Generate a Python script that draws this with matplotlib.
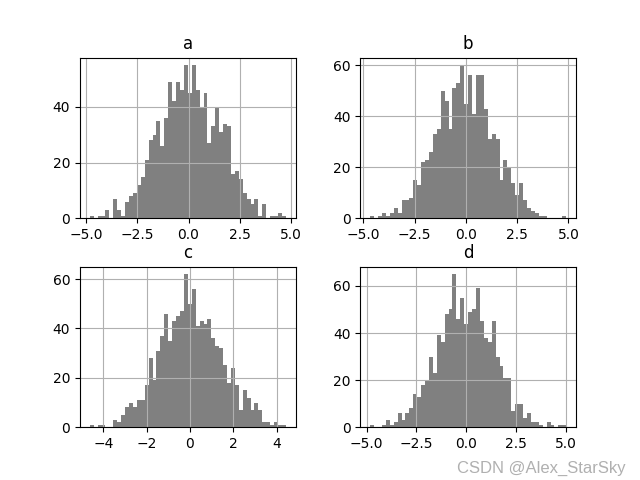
import numpy as np
import matplotlib
matplotlib.use("Agg")
import matplotlib.pyplot as plt

# column names and the data range of each column (min, max)
names = ["a", "b", "c", "d"]
ranges = {"a": (-4.83, 4.76), "b": (-4.67, 4.89), "c": (-4.63, 4.43), "d": (-4.82, 5.03)}

# counts per bin, 50 bins each
counts_a = [1, 0, 1, 1, 3, 0, 7, 3, 1, 6,
            8, 9, 12, 15, 21, 28, 30, 35, 26, 36,
            49, 42, 49, 46, 55, 45, 55, 46, 40, 45,
            27, 33, 40, 31, 34, 33, 16, 17, 14, 9,
            7, 5, 7, 1, 5, 0, 1, 1, 2, 1]
counts_b = [1, 0, 1, 2, 1, 2, 4, 2, 7, 7,
            8, 15, 13, 22, 23, 26, 33, 35, 50, 46,
            35, 51, 53, 60, 45, 56, 41, 56, 56, 43,
            31, 33, 31, 15, 23, 20, 14, 9, 14, 7,
            4, 3, 2, 1, 1, 0, 0, 0, 0, 1]
counts_c = [1, 0, 1, 1, 0, 0, 3, 2, 5, 8,
            10, 8, 11, 11, 17, 28, 19, 31, 37, 46,
            35, 43, 45, 47, 62, 50, 56, 41, 43, 42,
            44, 36, 33, 32, 25, 18, 24, 17, 7, 15,
            12, 7, 10, 7, 2, 2, 1, 2, 1, 1]
counts_d = [1, 0, 0, 1, 3, 1, 2, 6, 3, 6,
            8, 14, 13, 18, 20, 30, 23, 39, 36, 48,
            50, 65, 46, 55, 44, 49, 50, 59, 45, 38,
            36, 45, 30, 26, 21, 21, 7, 10, 10, 4,
            6, 2, 2, 1, 0, 2, 1, 0, 1, 1]
counts = {"a": counts_a, "b": counts_b, "c": counts_c, "d": counts_d}

fig, axes = plt.subplots(2, 2, figsize=(6.4, 4.8), dpi=100)
fig.subplots_adjust(wspace=0.3, hspace=0.3)

for ax, name in zip(axes.ravel(), names):
    lo, hi = ranges[name]
    edges = np.linspace(lo, hi, len(counts[name]) + 1)
    ax.hist(edges[:-1], bins=edges, weights=counts[name], color="grey")
    ax.set_title(name)
    ax.grid(True)

# CSDN watermark
fig.text(0.977, 0.0146, "CSDN @Alex_StarSky", ha="right", va="baseline",
         fontsize=12, color="#b0b0b0", family="Liberation Sans")

fig.savefig("out.png")
